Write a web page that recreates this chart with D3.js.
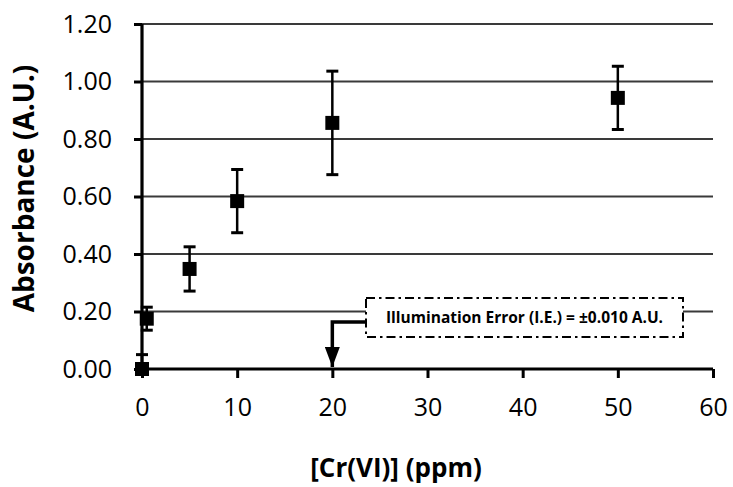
<!DOCTYPE html>
<html>
<head>
<meta charset="utf-8">
<script src="https://cdn.jsdelivr.net/npm/d3@7"></script>
<style>
  body { margin: 0; background: #fff; }
  svg text { font-family: "Open Sans", "Noto Sans", sans-serif; fill: #000; }
</style>
</head>
<body>
<div class="visHolder"></div>
<script>
const w = 733, h = 487;

// data
const concentration = [0, 0.5, 5, 10, 20, 50];          // ppm
const absorbance = [0.00, 0.175, 0.348, 0.584, 0.856, 0.943];
const errorBar = [0.05, 0.04, 0.077, 0.11, 0.18, 0.11];
const xTicks = [0, 10, 20, 30, 40, 50, 60];
const yTicks = [0, 0.2, 0.4, 0.6, 0.8, 1.0, 1.2];
const noteText = 'Illumination Error (I.E.) = \u00B10.010 A.U.';
const noteAt = 20; // arrow points at this concentration

const svg = d3.select('.visHolder')
  .append('svg')
  .attr('width', w)
  .attr('height', h);

const xScale = d3.scaleLinear().domain([0, 60]).range([142, 713]);
const yScale = d3.scaleLinear().domain([0, 1.2]).range([369, 24]);

// horizontal grid lines
svg.append('g')
  .selectAll('line')
  .data(yTicks.slice(1))
  .enter()
  .append('line')
  .attr('x1', xScale(0))
  .attr('x2', xScale(60))
  .attr('y1', d => yScale(d))
  .attr('y2', d => yScale(d))
  .attr('stroke', '#3a3a3a')
  .attr('stroke-width', 1.8);

// annotation box sits above the grid but under the axis
const box = {x: 366, y: 298, w: 317, h: 39};
svg.append('rect')
  .attr('x', box.x)
  .attr('y', box.y)
  .attr('width', box.w)
  .attr('height', box.h)
  .attr('fill', '#fff')
  .attr('stroke', '#000')
  .attr('stroke-width', 2)
  .attr('stroke-dasharray', '9 4 2.5 4');

svg.append('text')
  .attr('x', box.x + box.w / 2)
  .attr('y', box.y + box.h / 2)
  .attr('dy', '0.35em')
  .attr('text-anchor', 'middle')
  .style('font-weight', 'bold')
  .style('font-size', '15.5px')
  .text(noteText);

// elbow arrow from the box down to the x axis
svg.append('defs').append('marker')
  .attr('id', 'arrowhead')
  .attr('viewBox', '0 0 10 10')
  .attr('refX', 10)
  .attr('refY', 5)
  .attr('markerUnits', 'userSpaceOnUse')
  .attr('markerWidth', 20)
  .attr('markerHeight', 15)
  .attr('preserveAspectRatio', 'none')
  .attr('orient', 'auto')
  .append('path')
  .attr('d', 'M0,0 L10,5 L0,10 Z')
  .attr('fill', '#000');

svg.append('path')
  .attr('d', `M${box.x},${box.y + 24} H${xScale(noteAt)} V${yScale(0) - 2}`)
  .attr('fill', 'none')
  .attr('stroke', '#000')
  .attr('stroke-width', 3.5)
  .attr('marker-end', 'url(#arrowhead)');

// axes
const xAxis = d3.axisBottom(xScale).tickValues(xTicks).tickSize(9).tickPadding(20);
const yAxis = d3.axisLeft(yScale).tickValues(yTicks).tickSize(8).tickPadding(22)
  .tickFormat(d3.format('.2f'));

const gx = svg.append('g')
  .attr('id', 'x-axis')
  .attr('transform', `translate(0, ${yScale(0)})`)
  .call(xAxis);

const gy = svg.append('g')
  .attr('id', 'y-axis')
  .attr('transform', `translate(${xScale(0)}, 0)`)
  .call(yAxis);

[gx, gy].forEach(g => {
  g.select('.domain').attr('stroke', '#000').attr('stroke-width', 3.2);
  g.selectAll('.tick line').attr('stroke', '#000').attr('stroke-width', 3);
  g.selectAll('.tick text').style('font-size', '25px').attr('fill', '#000');
});
// d3 draws outer ticks on the domain path; replace with a flat line
gx.select('.domain').attr('d', `M${xScale(0)},0H${xScale(60)}`);
gy.select('.domain').attr('d', `M0,${yScale(1.2)}V${yScale(0)}`);

// error bars
const bars = svg.append('g')
  .selectAll('g')
  .data(concentration.map((c, i) => ({c, v: absorbance[i], e: errorBar[i]})))
  .enter()
  .append('g');

bars.append('line')
  .attr('x1', d => xScale(d.c))
  .attr('x2', d => xScale(d.c))
  .attr('y1', d => yScale(d.v + d.e))
  .attr('y2', d => yScale(Math.max(0, d.v - d.e)))
  .attr('stroke', '#000')
  .attr('stroke-width', 2.5);

bars.append('line')
  .attr('x1', d => xScale(d.c) - 6)
  .attr('x2', d => xScale(d.c) + 6)
  .attr('y1', d => yScale(d.v + d.e))
  .attr('y2', d => yScale(d.v + d.e))
  .attr('stroke', '#000')
  .attr('stroke-width', 3);

bars.filter(d => d.v - d.e > 0)
  .append('line')
  .attr('x1', d => xScale(d.c) - 6)
  .attr('x2', d => xScale(d.c) + 6)
  .attr('y1', d => yScale(d.v - d.e))
  .attr('y2', d => yScale(d.v - d.e))
  .attr('stroke', '#000')
  .attr('stroke-width', 3);

// square markers
const size = 14;
svg.append('g')
  .selectAll('rect')
  .data(concentration)
  .enter()
  .append('rect')
  .attr('x', d => xScale(d) - size / 2)
  .attr('y', (d, i) => yScale(absorbance[i]) - size / 2)
  .attr('width', size)
  .attr('height', size)
  .attr('fill', '#000');

// axis titles
svg.append('text')
  .attr('x', 396)
  .attr('y', 477)
  .attr('text-anchor', 'middle')
  .style('font-weight', 'bold')
  .style('font-size', '26px')
  .text('[Cr(VI)] (ppm)');

svg.append('text')
  .attr('transform', `translate(34, ${(yScale(0) + yScale(1.2)) / 2 - 8}) rotate(-90)`)
  .attr('text-anchor', 'middle')
  .style('font-weight', 'bold')
  .style('font-size', '28px')
  .text('Absorbance (A.U.)');
</script>
</body>
</html>
